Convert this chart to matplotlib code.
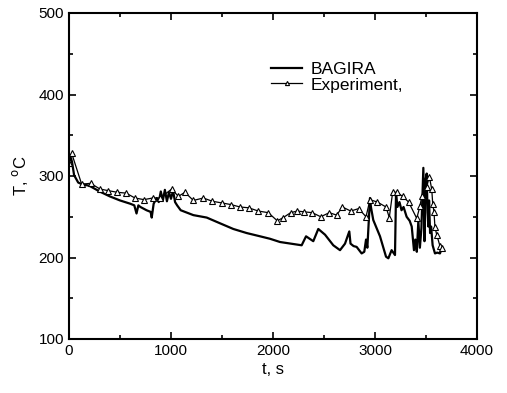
import numpy as np
import matplotlib
matplotlib.use('Agg')
import matplotlib.pyplot as plt
from matplotlib.ticker import MultipleLocator

plt.rcParams['font.family'] = ['Liberation Sans', 'DejaVu Sans']

# BAGIRA calculation
t_bag = [0, 20, 30, 50, 90, 125, 200, 300, 400, 500, 600, 640, 662, 680, 700, 760, 800, 811, 830,
         860, 880, 900, 920, 940, 960, 980, 1000, 1020, 1040, 1060, 1095, 1219, 1350, 1480, 1611,
         1742, 1873, 1970, 2069, 2281, 2324, 2395, 2444, 2510, 2591, 2657, 2706, 2748, 2760, 2790,
         2820, 2869, 2895, 2912, 2925, 2951, 2960, 2983, 3049, 3108, 3131, 3163, 3196, 3206, 3220,
         3240, 3260, 3280, 3310, 3340, 3360, 3382, 3395, 3410, 3425, 3440, 3455, 3474, 3485, 3495,
         3507, 3515, 3523, 3530, 3540, 3550, 3565, 3588, 3610, 3637, 3654]
T_bag = [318, 322, 317, 301, 292, 290, 288, 281, 275, 270, 266, 264, 254, 264, 262, 258, 256, 249, 266,
         273, 268, 281, 270, 283, 269, 280, 272, 282, 268, 264, 258, 252, 249, 242, 235,
         230, 226, 223, 219, 215, 226, 220, 235, 228, 215, 209, 217, 232, 217, 214,
         213, 205, 207, 222, 212, 273, 262, 246, 226, 201, 199, 209, 203, 279, 262,
         268, 258, 262, 250, 245, 238, 209, 222, 207, 245, 212, 236, 310, 220, 295,
         303, 255, 238, 270, 230, 238, 215, 205, 206, 205, 211]

# Experiment
t_exp = [0, 26, 124, 212, 304, 386, 474, 559, 647, 735, 820, 892, 1007, 1072, 1137, 1219, 1317,
         1405, 1497, 1585, 1676, 1761, 1856, 1954, 2042, 2101, 2173, 2238, 2307, 2385, 2468, 2552,
         2624, 2680, 2762, 2840, 2912, 2951, 3023, 3108, 3140, 3173, 3213, 3271, 3330, 3409, 3441,
         3458, 3507, 3533, 3556, 3566, 3578, 3588, 3605, 3637, 3660]
T_exp = [316, 328, 290, 291, 284, 282, 280, 279, 273, 271, 273, 273, 284, 275, 280, 270, 273,
         269, 267, 265, 262, 261, 257, 255, 245, 249, 255, 257, 256, 255, 250, 255,
         252, 262, 257, 260, 250, 271, 268, 262, 249, 280, 280, 275, 268, 248, 263,
         275, 287, 299, 284, 266, 256, 237, 228, 214, 212]

fig = plt.figure(figsize=(5.07, 3.93), dpi=100)
ax = fig.add_axes([69 / 507, 1 - 339 / 393, 408 / 507, 326 / 393])

ax.plot(t_bag, T_bag, color='black', lw=1.6, label='BAGIRA')
ax.plot(t_exp, T_exp, color='black', lw=0.9, marker='^', markersize=5,
        markerfacecolor='white', markeredgecolor='black', markeredgewidth=0.8,
        label='Experiment,')

ax.set_xlim(0, 4000)
ax.set_ylim(100, 500)
ax.xaxis.set_major_locator(MultipleLocator(1000))
ax.xaxis.set_minor_locator(MultipleLocator(500))
ax.yaxis.set_major_locator(MultipleLocator(100))
ax.yaxis.set_minor_locator(MultipleLocator(50))
ax.tick_params(which='both', direction='in', top=True, right=True, labelsize=11, width=1.2)
ax.tick_params(which='major', length=5)
ax.tick_params(which='minor', length=3)
for s in ax.spines.values():
    s.set_linewidth(1.5)

ax.set_xlabel('t, s', fontsize=12, labelpad=3)
ax.set_ylabel('T, $^{\\mathrm{o}}$C', fontsize=12, labelpad=6)

ax.legend(loc='upper left', bbox_to_anchor=(0.495, 0.85), frameon=False, fontsize=12.5,
          handlelength=1.8, handletextpad=0.5, labelspacing=0.02, borderaxespad=0,
          borderpad=0, markerscale=0.6)

fig.savefig('out.png', dpi=100)
